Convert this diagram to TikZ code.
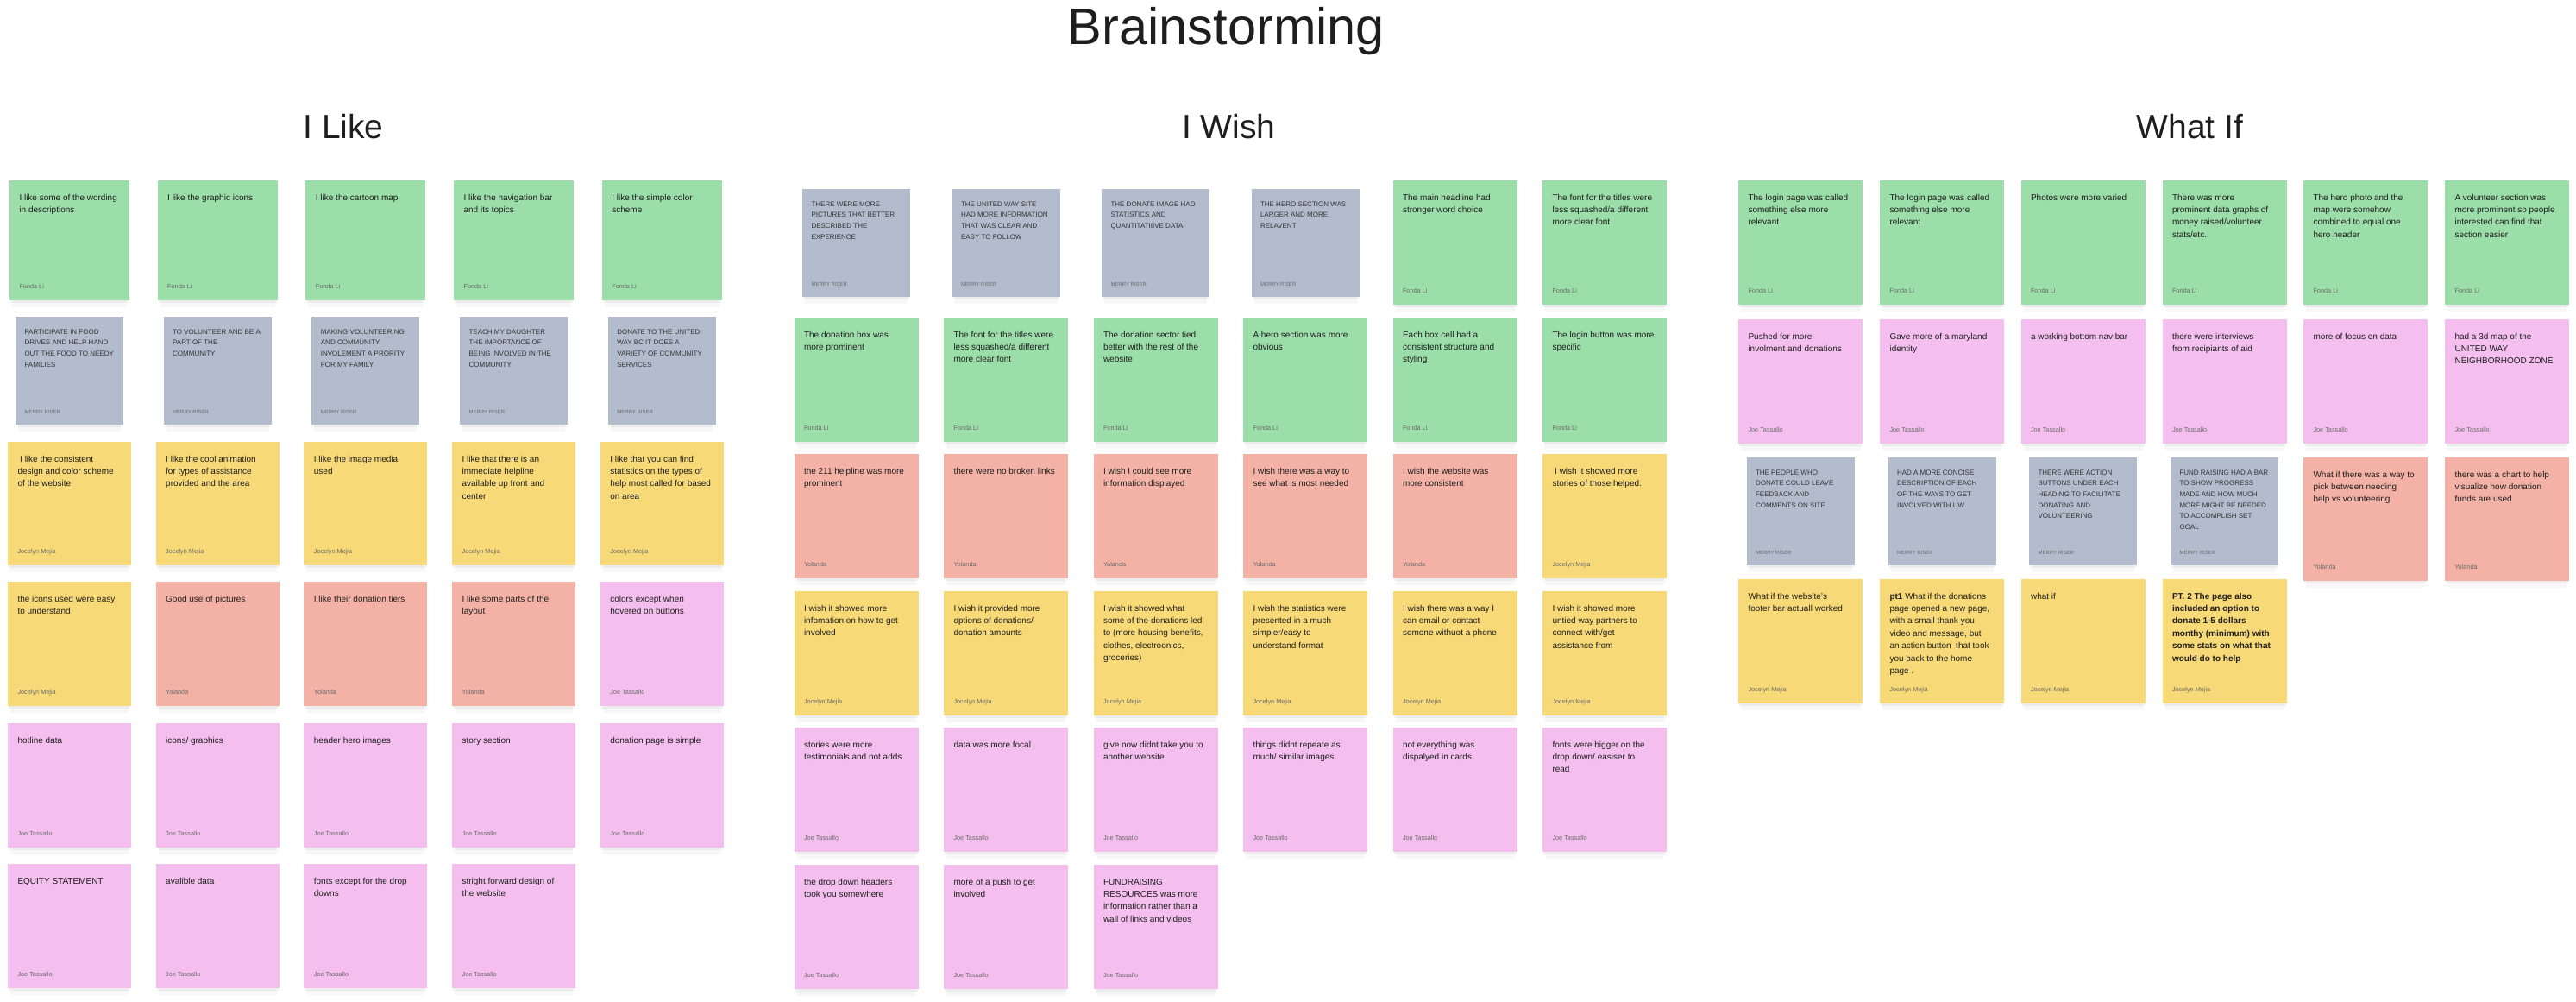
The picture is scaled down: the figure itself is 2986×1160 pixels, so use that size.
\documentclass[tikz,border=0pt]{standalone}
\usepackage{fontspec}
\setmainfont{Liberation Sans}
\usetikzlibrary{calc}
\definecolor{cgreen}{HTML}{9BDEA9}
\definecolor{cgray}{HTML}{B2BCCD}
\definecolor{cyellow}{HTML}{F8D977}
\definecolor{csalmon}{HTML}{F4B2A7}
\definecolor{cpink}{HTML}{F4BFEE}
\definecolor{txt}{HTML}{1E1E1E}
\definecolor{auth}{HTML}{6A6A6A}
\tikzset{
  sticky/.style={rectangle, inner sep=0pt, draw=none},
  bodytext/.style={anchor=base west, inner sep=0pt, text=txt, font=\fontsize{10}{14.4}\selectfont},
  gbodytext/.style={anchor=base west, inner sep=0pt, text=txt!90, font=\fontsize{8}{12.7}\selectfont},
  authortext/.style={anchor=base west, inner sep=0pt, text=auth, font=\fontsize{7.3}{9}\selectfont},
  gauthortext/.style={anchor=base west, inner sep=0pt, text=auth, font=\fontsize{6}{8}\selectfont},
  shadowa/.style={fill=black, opacity=0.045},
  shadowb/.style={fill=black, opacity=0.03},
  headtext/.style={anchor=base, inner sep=0pt, text=txt, font=\fontsize{39}{42}\selectfont},
}
% #1 name, #2 centre x, #3 top, #4 width, #5 height, #6 colour, #7 text, #8 author
\newcommand\stk[8]{%
  \fill[shadowb] ({#2-#4/2+3},{#3+5}) rectangle ({#2+#4/2-3},{#3+#5+8});
  \fill[shadowa] ({#2-#4/2+1},{#3+2}) rectangle ({#2+#4/2-1},{#3+#5+3});
  \node[sticky, fill=#6, minimum width=#4pt, minimum height=#5pt, anchor=north] (#1) at (#2,#3) {};
  \node[bodytext] (#1t) at ($(#1.north west)+(11.5,23)$) {\parbox[t]{200pt}{\raggedright #7}};
  \node[authortext] (#1a) at ($(#1.south west)+(11.5,-14)$) {#8};
}
% grey card: #1 name, #2 centre x, #3 top, #4 text
\newcommand\gstk[4]{%
  \fill[shadowb] ({#2-62.5+3},{#3+5}) rectangle ({#2+62.5-3},{#3+125+8});
  \fill[shadowa] ({#2-62.5+1},{#3+2}) rectangle ({#2+62.5-1},{#3+125+3});
  \node[sticky, fill=cgray, minimum width=125pt, minimum height=125pt, anchor=north] (#1) at (#2,#3) {};
  \node[gbodytext] (#1t) at ($(#1.north west)+(10.5,20)$) {\parbox[t]{200pt}{\raggedright #4}};
  \node[gauthortext] (#1a) at ($(#1.south west)+(10.5,-13)$) {MERRY RISER};
}
\newcommand\FL{Fonda Li}
\newcommand\JM{Jocelyn Mejia}
\newcommand\YO{Yolanda}
\newcommand\JT{Joe Tassallo}
\begin{document}
\begin{tikzpicture}[x=1pt,y=-1pt]
\fill[white] (0,0) rectangle (2986,1160);
\useasboundingbox (0,0) rectangle (2986,1160);

\node[anchor=base, inner sep=0pt, text=txt, font=\fontsize{59.5}{62}\selectfont] (title) at (1421.5,51.7) {Brainstorming};
\node[headtext] (hlike) at (398,160) {I Like};
\node[headtext] (hwish) at (1424.5,160) {I Wish};
\node[headtext] (hwhat) at (2538.5,160) {What If};

% ---------------- I Like ----------------
\stk{a11}{80.5}{209}{139}{139}{cgreen}{I like some of the wording\\in descriptions}{\FL}
\stk{a12}{252.2}{209}{139}{139}{cgreen}{I like the graphic icons}{\FL}
\stk{a13}{423.9}{209}{139}{139}{cgreen}{I like the cartoon map}{\FL}
\stk{a14}{595.6}{209}{139}{139}{cgreen}{I like the navigation bar\\and its topics}{\FL}
\stk{a15}{767.3}{209}{139}{139}{cgreen}{I like the simple color\\scheme}{\FL}

\gstk{a21}{80.5}{367}{PARTICIPATE IN FOOD\\DRIVES AND HELP HAND\\OUT THE FOOD TO NEEDY\\FAMILIES}
\gstk{a22}{252.2}{367}{TO VOLUNTEER AND BE A\\PART OF THE\\COMMUNITY}
\gstk{a23}{423.9}{367}{MAKING VOLUNTEERING\\AND COMMUNITY\\INVOLEMENT A PRORITY\\FOR MY FAMILY}
\gstk{a24}{595.6}{367}{TEACH MY DAUGHTER\\THE IMPORTANCE OF\\BEING INVOLVED IN THE\\COMMUNITY}
\gstk{a25}{767.3}{367}{DONATE TO THE UNITED\\WAY BC IT DOES A\\VARIETY OF COMMUNITY\\SERVICES}

\stk{a31}{80.5}{512}{143}{143}{cyellow}{\hspace*{2.7pt}I like the consistent\\design and color scheme\\of the website}{\JM}
\stk{a32}{252.2}{512}{143}{143}{cyellow}{I like the cool animation\\for types of assistance\\provided and the area}{\JM}
\stk{a33}{423.9}{512}{143}{143}{cyellow}{I like the image media\\used}{\JM}
\stk{a34}{595.6}{512}{143}{143}{cyellow}{I like that there is an\\immediate helpline\\available up front and\\center}{\JM}
\stk{a35}{767.3}{512}{143}{143}{cyellow}{I like that you can find\\statistics on the types of\\help most called for based\\on area}{\JM}

\stk{a41}{80.5}{674}{143}{144}{cyellow}{the icons used were easy\\to understand}{\JM}
\stk{a42}{252.2}{674}{143}{144}{csalmon}{Good use of pictures}{\YO}
\stk{a43}{423.9}{674}{143}{144}{csalmon}{I like their donation tiers}{\YO}
\stk{a44}{595.6}{674}{143}{144}{csalmon}{I like some parts of the\\layout}{\YO}
\stk{a45}{767.3}{674}{143}{144}{cpink}{colors except when\\hovered on buttons}{\JT}

\stk{a51}{80.5}{838}{143}{144}{cpink}{hotline data}{\JT}
\stk{a52}{252.2}{838}{143}{144}{cpink}{icons/ graphics}{\JT}
\stk{a53}{423.9}{838}{143}{144}{cpink}{header hero images}{\JT}
\stk{a54}{595.6}{838}{143}{144}{cpink}{story section}{\JT}
\stk{a55}{767.3}{838}{143}{144}{cpink}{donation page is simple}{\JT}

\stk{a61}{80.5}{1001}{143}{144}{cpink}{EQUITY STATEMENT}{\JT}
\stk{a62}{252.2}{1001}{143}{144}{cpink}{avalible data}{\JT}
\stk{a63}{423.9}{1001}{143}{144}{cpink}{fonts except for the drop\\downs}{\JT}
\stk{a64}{595.6}{1001}{143}{144}{cpink}{stright forward design of\\the website}{\JT}

% ---------------- I Wish ----------------
\gstk{b11}{992.5}{219}{THERE WERE MORE\\PICTURES THAT BETTER\\DESCRIBED THE\\EXPERIENCE}
\gstk{b12}{1166}{219}{THE UNITED WAY SITE\\HAD MORE INFORMATION\\THAT WAS CLEAR AND\\EASY TO FOLLOW}
\gstk{b13}{1339.5}{219}{THE DONATE IMAGE HAD\\STATISTICS AND\\QUANTITATI8VE DATA}
\gstk{b14}{1513}{219}{THE HERO SECTION WAS\\LARGER AND MORE\\RELAVENT}
\stk{b15}{1686.5}{209}{144}{144}{cgreen}{The main headline had\\stronger word choice}{\FL}
\stk{b16}{1860}{209}{144}{144}{cgreen}{The font for the titles were\\less squashed/a different\\more clear font}{\FL}

\stk{b21}{992.5}{368}{144}{144}{cgreen}{The donation box was\\more prominent}{\FL}
\stk{b22}{1166}{368}{144}{144}{cgreen}{The font for the titles were\\less squashed/a different\\more clear font}{\FL}
\stk{b23}{1339.5}{368}{144}{144}{cgreen}{The donation sector tied\\better with the rest of the\\website}{\FL}
\stk{b24}{1513}{368}{144}{144}{cgreen}{A hero section was more\\obvious}{\FL}
\stk{b25}{1686.5}{368}{144}{144}{cgreen}{Each box cell had a\\consistent structure and\\styling}{\FL}
\stk{b26}{1860}{368}{144}{144}{cgreen}{The login button was more\\specific}{\FL}

\stk{b31}{992.5}{526}{144}{144}{csalmon}{the 211 helpline was more\\prominent}{\YO}
\stk{b32}{1166}{526}{144}{144}{csalmon}{there were no broken links}{\YO}
\stk{b33}{1339.5}{526}{144}{144}{csalmon}{I wish I could see more\\information displayed}{\YO}
\stk{b34}{1513}{526}{144}{144}{csalmon}{I wish there was a way to\\see what is most needed}{\YO}
\stk{b35}{1686.5}{526}{144}{144}{csalmon}{I wish the website was\\more consistent}{\YO}
\stk{b36}{1860}{526}{144}{144}{cyellow}{\hspace*{2.7pt}I wish it showed more\\stories of those helped.}{\JM}

\stk{b41}{992.5}{685}{144}{144}{cyellow}{I wish it showed more\\infomation on how to get\\involved}{\JM}
\stk{b42}{1166}{685}{144}{144}{cyellow}{I wish it provided more\\options of donations/\\donation amounts}{\JM}
\stk{b43}{1339.5}{685}{144}{144}{cyellow}{I wish it showed what\\some of the donations led\\to (more housing benefits,\\clothes, electroonics,\\groceries)}{\JM}
\stk{b44}{1513}{685}{144}{144}{cyellow}{I wish the statistics were\\presented in a much\\simpler/easy to\\understand format}{\JM}
\stk{b45}{1686.5}{685}{144}{144}{cyellow}{I wish there was a way I\\can email or contact\\somone withuot a phone}{\JM}
\stk{b46}{1860}{685}{144}{144}{cyellow}{I wish it showed more\\untied way partners to\\connect with/get\\assistance from}{\JM}

\stk{b51}{992.5}{843}{144}{144}{cpink}{stories were more\\testimonials and not adds}{\JT}
\stk{b52}{1166}{843}{144}{144}{cpink}{data was more focal}{\JT}
\stk{b53}{1339.5}{843}{144}{144}{cpink}{give now didnt take you to\\another website}{\JT}
\stk{b54}{1513}{843}{144}{144}{cpink}{things didnt repeate as\\much/ similar images}{\JT}
\stk{b55}{1686.5}{843}{144}{144}{cpink}{not everything was\\dispalyed in cards}{\JT}
\stk{b56}{1860}{843}{144}{144}{cpink}{fonts were bigger on the\\drop down/ easiser to\\read}{\JT}

\stk{b61}{992.5}{1002}{144}{144}{cpink}{the drop down headers\\took you somewhere}{\JT}
\stk{b62}{1166}{1002}{144}{144}{cpink}{more of a push to get\\involved}{\JT}
\stk{b63}{1339.5}{1002}{144}{144}{cpink}{FUNDRAISING\\RESOURCES was more\\information rather than a\\wall of links and videos}{\JT}

% ---------------- What If ----------------
\stk{c11}{2087}{209}{144}{144}{cgreen}{The login page was called\\something else more\\relevant}{\FL}
\stk{c12}{2251}{209}{144}{144}{cgreen}{The login page was called\\something else more\\relevant}{\FL}
\stk{c13}{2414.5}{209}{144}{144}{cgreen}{Photos were more varied}{\FL}
\stk{c14}{2578.5}{209}{144}{144}{cgreen}{There was more\\prominent data graphs of\\money raised/volunteer\\stats/etc.}{\FL}
\stk{c15}{2742}{209}{144}{144}{cgreen}{The hero photo and the\\map were somehow\\combined to equal one\\hero header}{\FL}
\stk{c16}{2906}{209}{144}{144}{cgreen}{A volunteer section was\\more prominent so people\\interested can find that\\section easier}{\FL}

\stk{c21}{2087}{370}{144}{144}{cpink}{Pushed for more\\involment and donations}{\JT}
\stk{c22}{2251}{370}{144}{144}{cpink}{Gave more of a maryland\\identity}{\JT}
\stk{c23}{2414.5}{370}{144}{144}{cpink}{a working bottom nav bar}{\JT}
\stk{c24}{2578.5}{370}{144}{144}{cpink}{there were interviews\\from recipiants of aid}{\JT}
\stk{c25}{2742}{370}{144}{144}{cpink}{more of focus on data}{\JT}
\stk{c26}{2906}{370}{144}{144}{cpink}{had a 3d map of the\\UNITED WAY\\NEIGHBORHOOD ZONE}{\JT}

\gstk{c31}{2087}{530}{THE PEOPLE WHO\\DONATE COULD LEAVE\\FEEDBACK AND\\COMMENTS ON SITE}
\gstk{c32}{2251}{530}{HAD A MORE CONCISE\\DESCRIPTION OF EACH\\OF THE WAYS TO GET\\INVOLVED WITH UW}
\gstk{c33}{2414.5}{530}{THERE WERE ACTION\\BUTTONS UNDER EACH\\HEADING TO FACILITATE\\DONATING AND\\VOLUNTEERING}
\gstk{c34}{2578.5}{530}{FUND RAISING HAD A BAR\\TO SHOW PROGRESS\\MADE AND HOW MUCH\\MORE MIGHT BE NEEDED\\TO ACCOMPLISH SET\\GOAL}
\stk{c35}{2742}{530}{144}{143}{csalmon}{What if there was a way to\\pick between needing\\help vs volunteering}{\YO}
\stk{c36}{2906}{530}{144}{143}{csalmon}{there was a chart to help\\visualize how donation\\funds are used}{\YO}

\stk{c41}{2087}{671}{144}{144}{cyellow}{What if the website’s\\footer bar actuall worked}{\JM}
\stk{c42}{2251}{671}{144}{144}{cyellow}{\textbf{pt1} What if the donations\\page opened a new page,\\with a small thank you\\video and message, but\\an action button\ \ that took\\you back to the home\\page .}{\JM}
\stk{c43}{2414.5}{671}{144}{144}{cyellow}{what if}{\JM}
\stk{c44}{2578.5}{671}{144}{144}{cyellow}{\bfseries PT. 2 The page also\\included an option to\\donate 1-5 dollars\\monthy (minimum) with\\some stats on what that\\would do to help}{\JM}
\end{tikzpicture}
\end{document}
